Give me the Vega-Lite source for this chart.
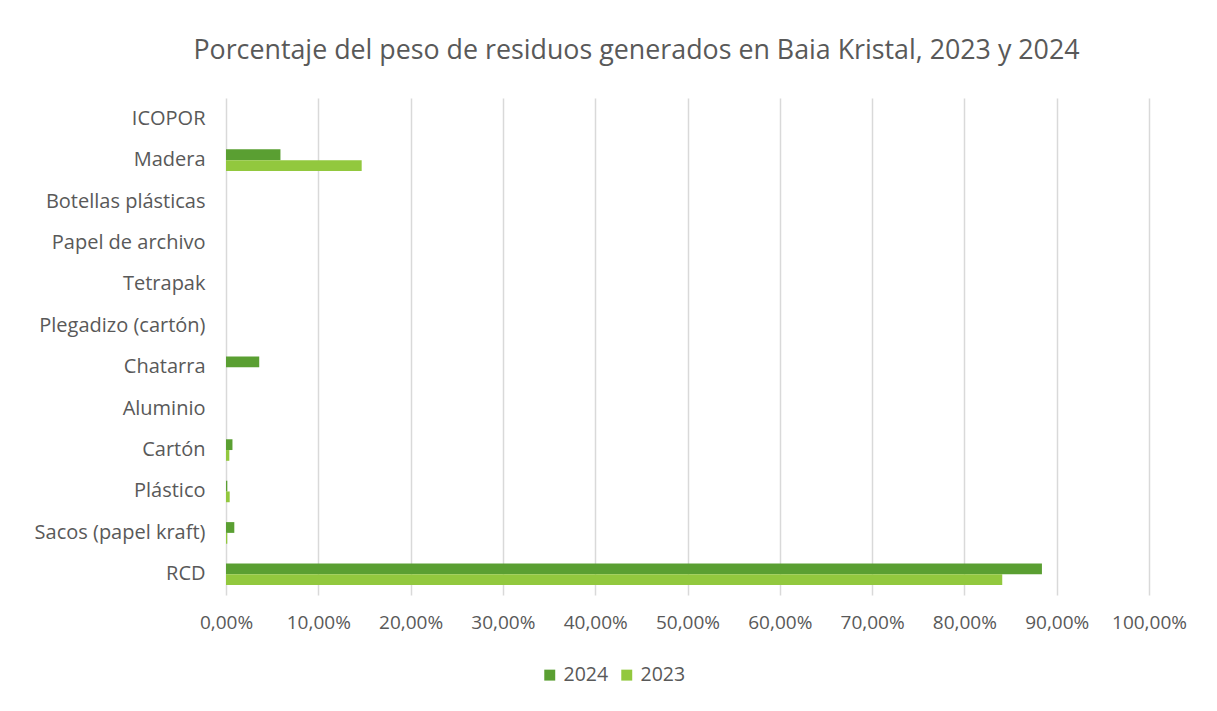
{
  "$schema": "https://vega.github.io/schema/vega-lite/v6.json",
  "width": 923,
  "height": 497,
  "autosize": {"type": "none"},
  "padding": {"left": 226, "top": 98, "right": 68, "bottom": 116},
  "background": "white",
  "title": {
    "text": "Porcentaje del peso de residuos generados en Baia Kristal, 2023 y 2024",
    "font": "Open Sans",
    "fontSize": 26.8,
    "fontWeight": "normal",
    "color": "#595959",
    "anchor": "middle",
    "dx": -51,
    "offset": 33
  },
  "data": {
    "values": [
      {"categoria": "ICOPOR", "anio": "2024", "valor": 0},
      {"categoria": "ICOPOR", "anio": "2023", "valor": 0},
      {"categoria": "Madera", "anio": "2024", "valor": 0.059},
      {"categoria": "Madera", "anio": "2023", "valor": 0.147},
      {"categoria": "Botellas plásticas", "anio": "2024", "valor": 0},
      {"categoria": "Botellas plásticas", "anio": "2023", "valor": 0},
      {"categoria": "Papel de archivo", "anio": "2024", "valor": 0},
      {"categoria": "Papel de archivo", "anio": "2023", "valor": 0},
      {"categoria": "Tetrapak", "anio": "2024", "valor": 0},
      {"categoria": "Tetrapak", "anio": "2023", "valor": 0},
      {"categoria": "Plegadizo (cartón)", "anio": "2024", "valor": 0},
      {"categoria": "Plegadizo (cartón)", "anio": "2023", "valor": 0},
      {"categoria": "Chatarra", "anio": "2024", "valor": 0.036},
      {"categoria": "Chatarra", "anio": "2023", "valor": 0},
      {"categoria": "Aluminio", "anio": "2024", "valor": 0},
      {"categoria": "Aluminio", "anio": "2023", "valor": 0},
      {"categoria": "Cartón", "anio": "2024", "valor": 0.007},
      {"categoria": "Cartón", "anio": "2023", "valor": 0.0036},
      {"categoria": "Plástico", "anio": "2024", "valor": 0.0014},
      {"categoria": "Plástico", "anio": "2023", "valor": 0.004},
      {"categoria": "Sacos (papel kraft)", "anio": "2024", "valor": 0.009},
      {"categoria": "Sacos (papel kraft)", "anio": "2023", "valor": 0.0014},
      {"categoria": "RCD", "anio": "2024", "valor": 0.884},
      {"categoria": "RCD", "anio": "2023", "valor": 0.841}
    ]
  },
  "mark": {"type": "bar"},
  "encoding": {
    "y": {
      "field": "categoria",
      "type": "nominal",
      "sort": ["ICOPOR", "Madera", "Botellas plásticas", "Papel de archivo", "Tetrapak", "Plegadizo (cartón)", "Chatarra", "Aluminio", "Cartón", "Plástico", "Sacos (papel kraft)", "RCD"],
      "scale": {"paddingInner": 0.48, "paddingOuter": 0.24},
      "axis": {
        "title": null,
        "domain": false,
        "ticks": false,
        "grid": false,
        "labelFont": "Open Sans",
        "labelFontSize": 20,
        "labelColor": "#595959",
        "labelPadding": 21
      }
    },
    "yOffset": {"field": "anio", "type": "nominal", "sort": ["2024", "2023"]},
    "x": {
      "field": "valor",
      "type": "quantitative",
      "scale": {"domain": [0, 1], "nice": false},
      "axis": {
        "title": null,
        "labelExpr": "replace(format(datum.value, '.2%'), '.', ',')",
        "values": [0, 0.1, 0.2, 0.3, 0.4, 0.5, 0.6, 0.7, 0.8, 0.9, 1],
        "labelOverlap": false,
        "labelBound": false,
        "labelFlush": false,
        "domain": false,
        "ticks": false,
        "grid": true,
        "gridColor": "#d9d9d9",
        "gridWidth": 1.5,
        "labelFont": "Open Sans",
        "labelFontSize": 19,
        "labelColor": "#595959",
        "labelPadding": 18
      }
    },
    "color": {
      "field": "anio",
      "type": "nominal",
      "sort": ["2024", "2023"],
      "scale": {"domain": ["2024", "2023"], "range": ["#5a9f32", "#92c83e"]},
      "legend": {
        "title": null,
        "orient": "none",
        "direction": "horizontal",
        "legendX": 314,
        "legendY": 567,
        "symbolType": "square",
        "symbolSize": 120,
        "labelFont": "Open Sans",
        "labelFontSize": 19.5,
        "labelColor": "#595959",
        "columnPadding": 8,
        "labelOffset": 4
      }
    }
  },
  "config": {
    "view": {"stroke": null}
  }
}
